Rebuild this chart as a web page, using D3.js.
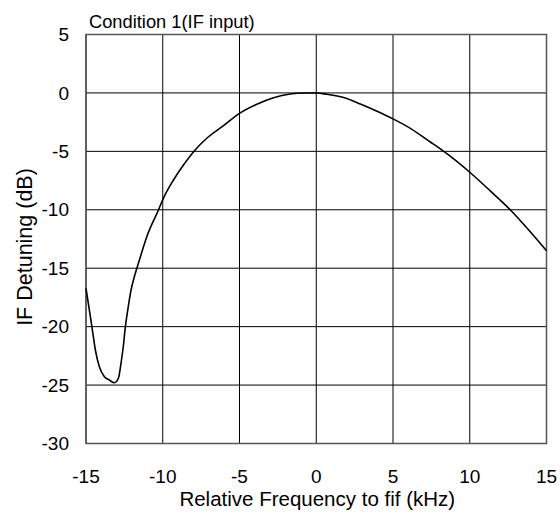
<!DOCTYPE html>
<html><head><meta charset="utf-8">
<script src="https://cdn.jsdelivr.net/npm/d3@7"></script>
<style>body{margin:0;background:#fff}svg{display:block}text{font-family:"Liberation Sans",Arial,sans-serif;fill:#000}</style>
</head><body>
<script>
const freq = [-15,-14.78,-14.61,-14.39,-14.13,-13.8,-13.48,-13.15,-12.89,-12.72,-12.57,-12.44,-12.28,-12.07,-11.8,-11.52,-11.3,-11.04,-10.28,-9.96,-9.3,-8.65,-7.89,-7.13,-6.04,-5.0,-3.87,-2.78,-1.7,-0.83,0,0.7,1.78,2.87,3.96,5.0,6.13,7.43,8.2,10.04,11.35,12.65,13.74,15];
const detune = [-16.72,-18.58,-20.06,-22.0,-23.43,-24.28,-24.57,-24.8,-24.42,-23.14,-21.7,-20.06,-18.58,-16.9,-15.5,-14.3,-13.35,-12.3,-10.02,-9.02,-7.45,-6.17,-4.88,-3.88,-2.8,-1.75,-0.97,-0.41,-0.09,0,0,-0.12,-0.4,-0.95,-1.57,-2.22,-3.03,-4.2,-4.9,-6.83,-8.4,-10.02,-11.58,-13.5];
const xTicks = [-15,-10,-5,0,5,10,15];
const yTicks = [5,0,-5,-10,-15,-20,-25,-30];
const W=560,H=512, L=86, R=546.5, T=34.5, B=443.5;
const svg = d3.select("body").append("svg").attr("width",W).attr("height",H);
const x = d3.scaleLinear().domain([-15,15]).range([L,R]);
const y = d3.scaleLinear().domain([-30,5]).range([B,T]);
const g = svg.append("g");
g.selectAll("line.v").data(xTicks).join("line").attr("x1",d=>x(d)).attr("x2",d=>x(d)).attr("y1",T).attr("y2",B).attr("stroke","#000").attr("stroke-width",1);
g.selectAll("line.h").data(yTicks).join("line").attr("y1",d=>y(d)).attr("y2",d=>y(d)).attr("x1",L).attr("x2",R).attr("stroke","#000").attr("stroke-width",1);
svg.append("rect").attr("x",L).attr("y",T).attr("width",R-L).attr("height",B-T).attr("fill","none").attr("stroke","#555").attr("stroke-width",1.5);
svg.append("g").selectAll("text").data(xTicks).join("text")
  .attr("x",d=>x(d)).attr("y",483).attr("text-anchor","middle").style("font-size","19px").text(d=>String(d));
svg.append("g").selectAll("text").data(yTicks).join("text")
  .attr("x",69).attr("y",d=>y(d)).attr("dy","0.35em").attr("text-anchor","end").style("font-size","19px").text(d=>String(d));
const line = d3.line().x((d,i)=>x(freq[i])).y(d=>y(d)).curve(d3.curveMonotoneX);
svg.append("path").attr("d",line(detune)).attr("fill","none").attr("stroke","#000").attr("stroke-width",1.6);
svg.append("text").attr("x",89).attr("y",27.5).style("font-size","18.3px").text("Condition 1(IF input)");
svg.append("text").attr("x",(L+R)/2+1).attr("y",506).attr("text-anchor","middle").style("font-size","20.5px").text("Relative Frequency to fif (kHz)");
svg.append("text").attr("transform",`translate(31.5,247) rotate(-90)`).attr("text-anchor","middle").style("font-size","21.5px").text("IF Detuning (dB)");
</script>
</body></html>
